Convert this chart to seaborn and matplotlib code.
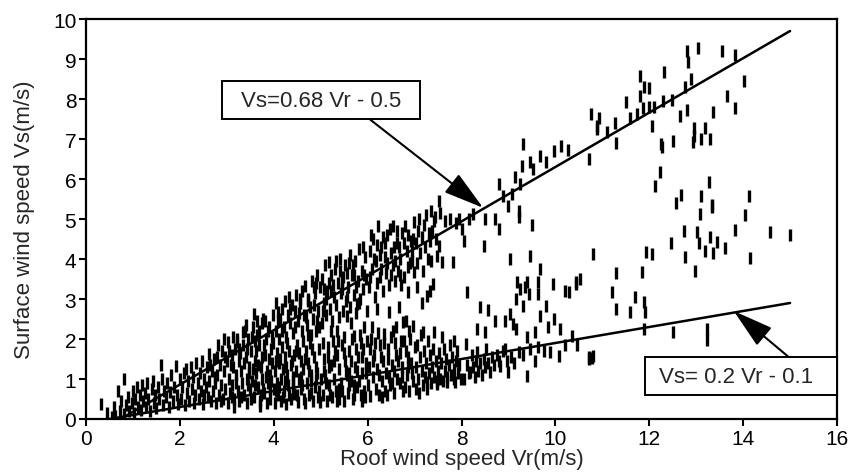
import matplotlib
matplotlib.use("Agg")
import matplotlib.pyplot as plt
import seaborn as sns
import pandas as pd
import numpy as np
from matplotlib.patches import Rectangle

# ---------------- data ----------------
pts_0_2 = [(0.33,0.38),(0.45,0.15),(0.55,0.05),(0.6,0.3),(0.62,0.08),(0.68,0.7),(0.72,0.2),(0.75,0.45),
           (0.8,1.0),(0.82,0.12),(0.85,0.35),(0.9,0.55),(0.92,0.2),(0.97,0.4),(1.0,0.7),(1.02,0.15),
           (1.05,0.5),(1.08,0.8),(1.1,0.3),(1.14,0.6),(1.17,0.22),(1.2,0.85),(1.22,0.45),(1.25,0.65),
           (1.28,0.3),(1.3,0.9),(1.33,0.5),(1.36,0.2),(1.4,0.75),(1.42,0.95),(1.45,0.4),(1.48,0.6),
           (1.5,0.28),(1.53,0.8),(1.56,0.5),(1.6,1.35),(1.62,1.0),(1.64,0.35),(1.67,0.7),(1.7,0.55),
           (1.73,0.9),(1.76,0.3),(1.8,0.67),(1.82,1.1),(1.85,0.45),(1.88,0.8),(1.92,1.33),(1.94,0.6),
           (1.97,0.38),(2.0,1.0)]

pts_2_4 = [(2.03,0.5),(2.05,0.8),(2.08,1.15),(2.1,0.35),(2.13,1.25),(2.15,0.65),(2.18,0.95),(2.2,0.45),
           (2.23,1.3),(2.25,0.75),(2.28,1.05),(2.3,0.4),(2.33,0.6),(2.35,1.4),(2.38,0.9),(2.4,0.5),
           (2.43,1.15),(2.45,0.7),(2.47,1.46),(2.5,0.38),(2.52,1.0),(2.55,0.8),(2.57,1.3),(2.6,0.55),
           (2.61,1.63),(2.63,0.95),(2.66,0.45),(2.68,1.2),(2.7,0.7),(2.72,1.5),(2.75,0.9),(2.77,0.4),
           (2.79,1.54),(2.8,1.1),(2.83,0.6),(2.85,1.35),(2.87,0.85),(2.9,1.7),(2.92,0.5),(2.93,2.0),
           (2.95,1.2),(2.97,0.75),(3.0,1.45),
           (3.02,0.4),(3.03,1.92),(3.05,1.0),(3.07,0.65),(3.1,1.6),(3.12,0.85),(3.14,1.3),(3.16,0.5),
           (3.18,1.75),(3.2,1.1),(3.21,1.92),(3.23,0.7),(3.25,1.45),(3.27,0.45),(3.3,1.2),(3.32,0.9),
           (3.34,1.85),(3.35,2.17),(3.37,0.6),(3.4,1.55),(3.42,1.0),(3.44,0.4),(3.46,2.0),(3.48,1.3),
           (3.5,0.75),(3.52,1.7),(3.54,0.95),(3.56,2.3),(3.57,2.63),(3.58,0.55),(3.6,1.45),(3.62,1.15),
           (3.64,2.1),(3.66,0.8),(3.68,1.85),(3.7,0.45),(3.71,0.33),(3.72,1.3),(3.74,2.4),(3.76,1.0),
           (3.78,2.5),(3.8,0.65),(3.82,1.6),(3.84,2.0),(3.86,1.2),(3.88,0.9),(3.9,2.3),(3.92,0.5),
           (3.94,1.75),(3.96,1.4),(3.98,2.6),(4.0,0.75),
           (3.05,1.7),(3.15,0.3),(3.28,1.65),(3.38,2.2),(3.45,0.85),(3.55,1.25),(3.63,1.7),(3.73,0.6),
           (3.83,1.05),(3.87,2.2),(3.93,1.1),(3.97,2.05),(3.1,0.55),(3.22,2.0),(3.43,1.75),(3.65,2.45),
           (3.75,1.55),(3.85,0.4),(3.95,0.95),
           (2.52,0.6),(2.64,1.35),(2.74,1.05),(2.82,1.85),(2.88,0.45),(2.96,1.55),(3.08,1.35),(3.13,2.05),
           (3.19,0.9),(3.26,1.75),(3.31,0.55),(3.36,1.4),(3.41,2.35),(3.47,1.15),(3.51,0.5),(3.53,2.05),
           (3.59,0.85),(3.61,1.95),(3.67,1.35),(3.69,2.2),(3.77,0.75),(3.79,1.85),(3.81,2.45),(3.89,1.5),
           (3.91,0.75),(3.99,1.9)]

pts_4_6 = [(4.02,0.4),(4.03,1.2),(4.04,2.2),(4.05,2.9),(4.06,0.9),(4.07,1.65),(4.08,2.67),(4.1,0.6),
           (4.11,1.4),(4.12,2.0),(4.13,2.5),(4.15,1.0),(4.16,0.45),(4.17,1.8),(4.18,2.75),(4.2,1.25),
           (4.21,2.3),(4.22,0.7),(4.24,2.96),(4.25,1.55),(4.26,0.38),(4.27,2.05),(4.29,1.1),(4.3,2.6),
           (4.31,0.85),(4.33,1.7),(4.34,2.4),(4.36,0.5),(4.37,1.35),(4.38,2.85),(4.4,0.95),(4.41,2.15),
           (4.43,1.6),(4.44,0.62),(4.45,2.7),(4.47,1.2),(4.48,3.1),(4.5,1.85),(4.51,0.42),(4.52,2.45),
           (4.54,1.0),(4.55,2.9),(4.57,1.45),(4.58,0.75),(4.6,2.2),(4.61,3.2),(4.62,1.25),(4.64,0.5),
           (4.65,2.6),(4.67,3.33),(4.68,1.7),(4.7,0.9),(4.71,2.35),(4.73,1.4),(4.74,3.0),(4.76,0.6),
           (4.77,1.9),(4.78,2.8),(4.8,1.1),(4.81,3.45),(4.83,0.45),(4.84,2.5),(4.85,1.55),(4.87,3.15),
           (4.88,0.8),(4.9,2.2),(4.91,1.3),(4.92,3.6),(4.94,0.55),(4.95,2.7),(4.96,1.75),(4.98,3.3),
           (4.99,0.42),(5.0,1.0),
           (4.05,0.7),(4.14,1.5),(4.19,0.55),(4.28,1.9),(4.32,0.6),(4.42,1.05),(4.46,2.3),(4.53,1.65),
           (4.56,3.0),(4.63,1.95),(4.66,0.4),(4.72,2.95),(4.75,1.2),(4.79,2.1),(4.82,1.75),(4.86,2.85),
           (4.89,1.0),(4.93,2.45),(4.97,0.7),(4.09,2.45),(4.23,0.95),(4.35,2.75),(4.39,1.45),(4.49,0.6),
           (4.59,1.05),(4.69,2.55),(4.8,0.65),(4.9,3.4),
           (4.04,1.45),(4.12,0.8),(4.18,2.2),(4.26,1.3),(4.33,3.05),(4.41,0.75),(4.47,1.7),(4.54,2.65),
           (4.6,0.85),(4.67,1.5),(4.73,2.1),(4.79,0.95),(4.85,3.3),(4.92,1.15),(4.97,2.3),
           (5.02,2.4),(5.03,3.5),(5.05,0.6),(5.06,1.5),(5.07,2.9),(5.09,3.85),(5.1,1.1),(5.11,2.6),
           (5.13,0.45),(5.14,3.2),(5.15,1.8),(5.17,3.92),(5.18,0.85),(5.19,2.75),(5.21,1.35),(5.22,3.6),
           (5.24,0.55),(5.25,2.45),(5.26,1.95),(5.28,3.05),(5.29,1.0),(5.31,3.75),(5.32,0.7),(5.33,2.85),
           (5.35,1.6),(5.36,3.4),(5.38,0.5),(5.39,2.55),(5.4,1.25),(5.42,4.0),(5.43,3.15),(5.44,0.9),
           (5.46,1.85),(5.47,2.7),(5.48,3.55),(5.5,0.45),(5.51,1.45),(5.52,3.85),(5.54,2.95),(5.55,1.1),
           (5.56,2.58),(5.58,0.65),(5.59,3.3),(5.6,1.7),(5.62,4.1),(5.63,2.8),(5.64,0.95),(5.66,3.6),
           (5.67,2.0),(5.69,0.5),(5.7,3.1),(5.71,2.08),(5.73,1.3),(5.74,3.95),(5.75,2.65),(5.77,2.88),
           (5.78,0.8),(5.79,3.45),(5.8,1.55),(5.82,4.25),(5.83,3.0),(5.85,0.6),(5.86,1.9),(5.87,3.7),
           (5.89,1.15),(5.9,3.25),(5.92,2.3),(5.93,0.7),(5.94,4.05),(5.96,1.4),(5.97,3.5),(5.99,2.71),
           (6.0,0.85),
           (5.04,1.9),(5.08,1.2),(5.12,3.0),(5.16,1.55),(5.2,0.6),(5.23,2.2),(5.27,3.35),(5.3,1.7),
           (5.34,0.45),(5.37,1.95),(5.41,3.7),(5.45,0.7),(5.49,2.05),(5.53,1.2),(5.57,3.65),(5.61,0.85),
           (5.65,1.45),(5.68,3.85),(5.72,0.6),(5.76,1.75),(5.81,0.95),(5.84,2.1),(5.88,0.45),(5.91,1.75),
           (5.95,0.55),(5.98,1.95),(5.06,3.25),(5.18,3.4),(5.32,3.95),(5.46,3.25),(5.6,3.9),(5.75,3.3),
           (5.9,4.3),
           (5.05,2.7),(5.11,0.9),(5.17,1.3),(5.23,3.2),(5.28,1.45),(5.35,2.2),(5.4,0.75),(5.45,3.45),
           (5.5,1.65),(5.55,3.05),(5.6,1.15),(5.65,2.4),(5.7,0.85),(5.72,3.6),(5.78,1.2),(5.82,2.9),
           (5.88,1.55),(5.92,3.6),(5.97,1.15)]

pts_6_8 = [(6.02,3.3),(6.03,1.3),(6.05,4.2),(6.06,0.58),(6.08,2.0),(6.09,3.75),(6.11,1.05),(6.12,4.5),
           (6.14,1.6),(6.15,3.05),(6.17,0.75),(6.18,3.95),(6.2,2.75),(6.21,1.25),(6.23,4.83),(6.24,0.6),
           (6.26,3.55),(6.27,1.85),(6.29,4.3),(6.3,0.95),(6.32,3.2),(6.33,1.45),(6.34,2.12),(6.36,4.05),
           (6.37,0.7),(6.39,3.65),(6.4,1.15),(6.42,4.6),(6.43,1.75),(6.45,2.67),(6.46,3.35),(6.48,0.85),
           (6.5,4.15),(6.51,1.35),(6.53,3.85),(6.54,4.83),(6.55,2.2),(6.57,0.65),(6.58,3.45),(6.6,1.6),
           (6.62,4.4),(6.63,1.0),(6.65,3.7),(6.66,2.79),(6.68,0.9),(6.7,4.0),(6.71,1.95),(6.73,4.65),
           (6.74,1.3),(6.76,2.42),(6.77,3.55),(6.79,0.8),(6.8,4.83),(6.81,1.7),(6.83,4.2),(6.84,1.1),
           (6.86,3.8),(6.87,3.17),(6.89,0.7),(6.9,2.0),(6.92,4.45),(6.93,1.4),(6.95,3.95),(6.96,0.95),
           (6.98,4.92),(6.99,3.67),(7.0,1.8),
           (6.04,1.75),(6.1,2.3),(6.16,1.9),(6.22,2.15),(6.25,1.1),(6.31,0.55),(6.35,1.9),(6.41,0.6),
           (6.44,1.5),(6.49,2.05),(6.52,0.9),(6.56,1.2),(6.61,2.3),(6.64,1.45),(6.69,1.65),(6.75,0.7),
           (6.78,1.95),(6.82,2.45),(6.85,1.55),(6.88,2.2),(6.94,1.15),(6.97,2.33),(6.07,4.6),(6.19,4.35),
           (6.28,3.75),(6.38,4.4),(6.47,4.75),(6.59,3.95),(6.67,4.3),(6.72,3.35),(6.85,4.6),(6.94,4.2),
           (6.06,3.55),(6.13,4.0),(6.2,3.4),(6.27,4.1),(6.33,4.55),(6.41,3.9),(6.49,3.6),(6.56,4.3),
           (6.63,4.7),(6.7,3.6),(6.78,4.4),(6.9,3.9),(6.96,4.5),(6.12,1.45),(6.29,1.55),(6.45,1.05),
           (6.58,1.9),(6.73,1.05),(6.86,1.3),
           (7.02,4.4),(7.05,3.9),(7.08,4.7),(7.1,5.0),(7.12,4.15),(7.15,4.55),(7.18,3.7),(7.2,4.85),
           (7.23,4.3),(7.25,5.1),(7.28,4.0),(7.3,4.65),(7.33,4.45),(7.35,5.2),(7.38,4.7),(7.42,4.95),
           (7.46,4.5),(7.55,5.15),(7.65,4.95),(7.75,5.0),(7.88,4.9),
           (7.36,3.96),(7.39,3.38),(7.44,5.04),(7.48,4.08),(7.53,5.46),(7.53,4.33),(7.58,3.92),(7.82,3.92),
           (7.94,5.0),(7.26,3.08),(7.19,2.17),(7.41,2.17),(7.58,2.04),(7.83,1.96),(7.48,0.88),(7.69,0.92),
           (7.87,0.92),(7.26,0.92),(7.05,3.3),(7.15,2.9),(7.32,3.2),
           (7.02,0.75),(7.04,1.3),(7.06,1.85),(7.08,1.0),(7.1,0.65),(7.12,1.55),(7.14,2.1),(7.16,1.2),
           (7.18,0.85),(7.2,1.7),(7.22,1.05),(7.24,1.4),(7.27,0.75),(7.29,1.95),(7.31,1.15),(7.33,1.6),
           (7.35,0.9),(7.37,1.3),(7.4,1.75),(7.42,1.05),(7.45,1.45),(7.47,0.95),(7.5,1.2),(7.52,1.65),
           (7.55,1.0),(7.57,1.4),(7.6,0.95),(7.62,1.75),(7.65,1.2),(7.67,1.5),(7.7,1.05),(7.73,1.35),
           (7.75,1.85),(7.78,1.1),(7.8,1.55),(7.83,1.25),(7.85,1.0),(7.88,1.45),(7.9,1.7),(7.93,1.15),
           (7.95,1.35),(7.98,1.0)]

pts_8_16 = [(8.01,4.75),(8.05,4.46),(8.12,3.17),(8.24,5.12),(8.15,5.0),(8.51,5.0),(8.47,4.33),(8.72,5.0),
            (8.79,4.75),(8.79,5.88),(8.88,5.58),(9.0,5.33),(9.08,5.63),(9.15,6.04),(9.24,5.88),(9.22,5.21),
            (9.22,5.04),(9.5,4.85),(9.31,6.88),(9.68,6.58),(9.81,6.42),(9.98,6.71),(10.13,6.83),(10.26,6.73),
            (9.45,6.43),(9.52,6.25),(9.29,6.33),(10.71,6.5),(10.89,7.25),(10.75,7.62),(10.94,7.52),
            (10.89,7.33),(11.09,7.18),(11.26,7.39),(11.6,7.52),(11.74,7.62),(11.87,7.78),(12.0,7.79),
            (12.1,7.79),(11.51,7.92),(11.8,8.07),(11.88,8.29),(11.99,8.27),(11.81,8.58),(12.32,8.68),
            (12.3,7.96),(12.49,7.98),(12.76,8.29),(12.9,8.5),(12.83,8.92),(12.81,9.21),(13.04,9.27),
            (13.54,9.21),(13.82,9.1),(14.02,8.44),(13.65,8.08),(13.82,7.77),(11.3,6.89),(12.06,7.32),
            (12.65,7.58),(12.81,7.73),(13.35,7.68),(12.96,7.27),(13.18,7.27),(12.95,7.08),(13.11,7.0),
            (13.3,7.0),(12.94,6.92),(12.51,6.96),(12.24,6.88),(12.27,6.79),(12.22,6.17),(12.13,5.82),
            (13.28,5.92),(12.68,5.6),(12.57,5.4),(13.11,5.58),(14.12,5.58),(13.33,5.35),(13.09,5.12),
            (13.33,5.29),(14.03,5.1),(12.74,4.69),(13.02,4.67),(13.29,4.56),(13.45,4.43),(13.06,4.39),
            (13.82,4.73),(14.58,4.67),(15.0,4.6),(12.47,4.39),(13.62,4.27),(13.18,4.19),(13.36,4.14),
            (12.77,4.04),(14.14,4.02),(11.94,4.18),(12.06,4.12),(10.8,4.12),(12.97,3.71),(11.3,3.65),
            (11.85,3.67),(11.21,3.17),(11.69,3.04),(11.88,2.92),(11.3,2.75),(11.58,2.68),(11.92,2.68),
            (11.88,2.25),(12.51,2.18),(13.22,2.25),(13.22,1.98),(10.8,1.58),(10.72,1.55),(10.46,1.85),
            (10.43,3.42),(10.53,3.5),
            (9.04,4.0),(9.47,4.08),(9.68,3.75),(9.18,3.42),(9.4,3.42),(9.25,3.25),(9.35,3.29),(9.43,3.12),
            (9.64,3.42),(9.62,3.12),(9.95,3.38),(10.21,3.21),(10.28,3.18),(10.45,3.38),(9.17,3.0),
            (9.31,2.83),(8.39,2.79),(8.56,2.73),(8.72,2.46),(8.93,2.46),(9.04,2.63),(9.1,2.38),(9.67,2.58),
            (9.79,2.83),(9.84,2.29),(9.98,2.5),(10.09,2.25),(9.17,2.25),(9.57,2.17),(9.4,2.04),(8.32,2.25),
            (10.36,2.08),(8.51,2.17),(8.93,1.75),
            (8.05,1.0),(8.1,1.88),(8.12,1.35),(8.15,1.15),(8.19,1.17),(8.22,1.6),(8.25,1.3),(8.28,1.05),
            (8.3,1.45),(8.33,1.67),(8.36,1.2),(8.4,1.4),(8.43,1.1),(8.47,1.5),(8.5,1.3),(8.53,1.75),
            (8.56,1.4),(8.61,1.17),(8.65,1.55),(8.7,1.35),(8.75,1.6),(8.8,1.45),(8.83,1.33),(8.88,1.7),
            (8.97,1.45),(9.0,1.17),(9.05,1.55),(9.12,1.4),(9.22,1.67),(9.3,1.6),(9.4,1.08),(9.45,1.75),
            (9.57,1.46),(9.62,1.8),(9.75,1.7),(9.89,1.67),(10.07,1.58),(10.2,1.85),(10.71,1.5),(10.78,1.52)]

# regression lines:  Vs = a * Vr + b
fit_upper = (0.68, -0.5)
fit_lower = (0.2, -0.1)
fit_upper_range = (0.75, 15.0)
fit_lower_range = (0.5, 15.0)

x_ticks = [0, 2, 4, 6, 8, 10, 12, 14, 16]
y_ticks = [0, 1, 2, 3, 4, 5, 6, 7, 8, 9, 10]
label_upper = "Vs=0.68 Vr - 0.5"
label_lower = "Vs= 0.2 Vr - 0.1"
x_label = "Roof wind speed Vr(m/s)"
y_label = "Surface wind speed Vs(m/s)"

# ---------------- plotting ----------------
sns.set_theme(style="ticks")
plt.rcParams["font.family"] = ["Liberation Sans", "DejaVu Sans"]

all_pts = pts_0_2 + pts_2_4 + pts_4_6 + pts_6_8 + pts_8_16
df = pd.DataFrame(all_pts, columns=["Vr", "Vs"])

fig = plt.figure(figsize=(8.52, 4.77), dpi=100)
ax = fig.add_axes([86/852, 1-420/477, (837-86)/852, (420-20)/477])

sns.scatterplot(data=df, x="Vr", y="Vs", marker="|", s=64, color="black",
                linewidth=2.4, ax=ax, legend=False)

for (a, b), (x0, x1) in [(fit_upper, fit_upper_range), (fit_lower, fit_lower_range)]:
    xx = np.array([x0, x1])
    line_df = pd.DataFrame({"Vr": xx, "Vs": a * xx + b})
    sns.lineplot(data=line_df, x="Vr", y="Vs", color="black", linewidth=1.8, ax=ax)

ax.set_xlim(0, 16)
ax.set_ylim(0, 10)
ax.set_xticks(x_ticks)
ax.set_yticks(y_ticks)
ax.tick_params(axis="both", direction="out", length=5, width=1.5, colors="black", labelsize=15, pad=2)
for sp in ax.spines.values():
    sp.set_linewidth(1.6)
    sp.set_color("black")
    sp.set_visible(True)

ax.set_xlabel(x_label, fontsize=16)
ax.set_ylabel(y_label, fontsize=16)
ax.xaxis.set_label_coords(0.5, -0.072)
ax.yaxis.set_label_coords(-0.068, 0.5)

# annotation boxes
ax.add_patch(Rectangle((2.90, 7.5), 4.22, 0.95, fc="white", ec="black", lw=1.4, zorder=5))
ax.text(5.0, 7.97, label_upper, ha="center", va="center", fontsize=16, zorder=6)
ax.add_patch(Rectangle((11.9, 0.6), 4.1, 0.95, fc="white", ec="black", lw=1.4, zorder=5, clip_on=False))
ax.text(13.86, 1.07, label_lower, ha="center", va="center", fontsize=16, zorder=6)

arrow = dict(arrowstyle="-|>,head_length=1.4,head_width=0.4", mutation_scale=18,
             color="black", lw=1.5, shrinkA=0, shrinkB=0)
ax.annotate("", xy=(8.46, 5.28), xytext=(6.06, 7.48), arrowprops=arrow, zorder=6)
ax.annotate("", xy=(13.8, 2.7), xytext=(14.97, 1.55), arrowprops=arrow, zorder=6)

fig.savefig("out.png", dpi=100)
